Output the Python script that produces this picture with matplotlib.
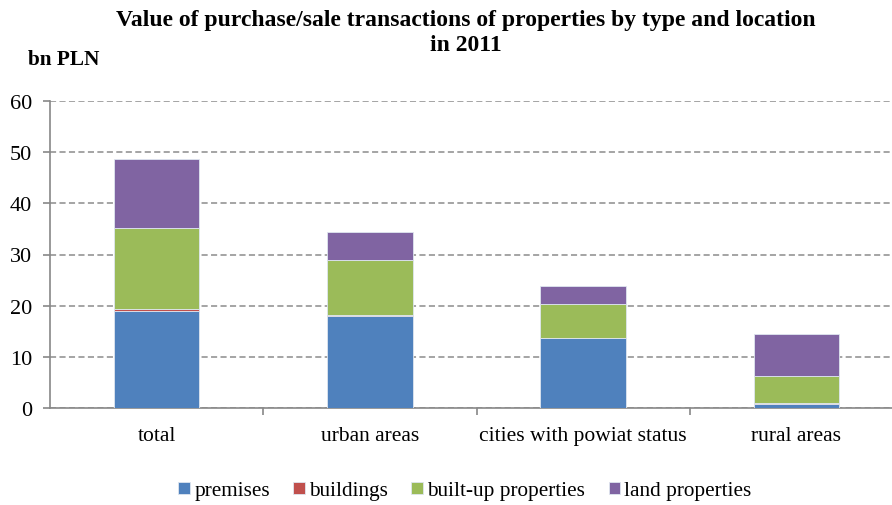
import matplotlib
matplotlib.use('Agg')
import matplotlib.pyplot as plt
import numpy as np

plt.rcParams['font.family'] = ['Liberation Serif', 'DejaVu Serif']

# Data (bn PLN)
categories = ['total', 'urban areas', 'cities with powiat status', 'rural areas']
premises = [19.0, 18.0, 13.6, 0.8]
buildings = [0.3, 0.25, 0.1, 0.1]
builtUp = [15.9, 10.65, 6.7, 5.35]
land = [13.5, 5.4, 3.4, 8.15]

seriesNames = ['premises', 'buildings', 'built-up properties', 'land properties']
seriesColors = ['#4F81BD', '#C0504D', '#9BBB59', '#8064A2']

figW, figH = 8.92, 5.06
fig = plt.figure(figsize=(figW, figH), dpi=100)
ax = fig.add_axes([50/892, 97/506, 853/892, 307/506])

x = np.arange(len(categories))
bottom = np.zeros(len(categories))
for vals, name, col in zip([premises, buildings, builtUp, land], seriesNames, seriesColors):
    ax.bar(x, vals, width=0.4, bottom=bottom, color=col, label=name,
           edgecolor='#dfe6f0', linewidth=0.6, zorder=3)
    bottom += np.array(vals)

ax.set_xlim(-0.5, 3.5)
ax.set_ylim(0, 60)
ax.set_yticks(range(0, 61, 10))
ax.set_xticks(x)
ax.set_xticklabels(categories, fontsize=15.5)
ax.set_xticks(np.arange(0.5, 3.6, 1), minor=True)
ax.tick_params(axis='x', which='major', length=0, pad=13)
ax.tick_params(axis='x', which='minor', length=5, color='#888888', width=1.2)
ax.tick_params(axis='y', length=5, color='#888888', width=1.2, labelsize=16, pad=8)

ax.yaxis.grid(True, linestyle=(0, (4, 2.2)), color='#8c8c8c', linewidth=1.1, zorder=0)
for s in ['top', 'right']:
    ax.spines[s].set_visible(False)
for s in ['left', 'bottom']:
    ax.spines[s].set_color('#888888')
    ax.spines[s].set_linewidth(1.2)

fig.text(466/892, 1 - 33/506, 'Value of purchase/sale transactions of properties by type and location\nin 2011',
         ha='center', va='center', fontsize=17, fontweight='bold', linespacing=1.22)
fig.text(28/892, 1 - 60/506, 'bn PLN', ha='left', va='center', fontsize=15.3, fontweight='bold')

fig.legend(loc='center', bbox_to_anchor=(465/892, 1 - 492/506), ncol=4, frameon=False,
           fontsize=15.3, handlelength=0.55, handleheight=0.55, handletextpad=0.2,
           columnspacing=1.1)

plt.savefig('out.png', dpi=100)
